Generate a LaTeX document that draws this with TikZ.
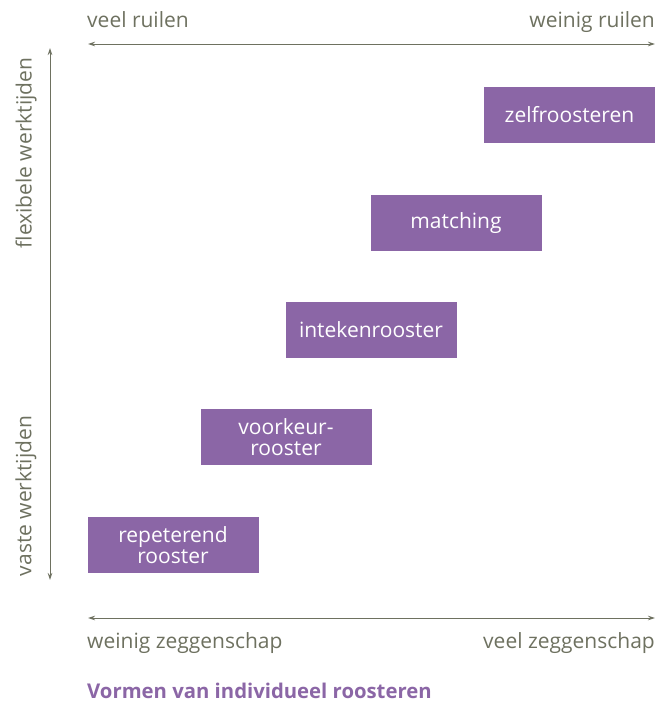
\documentclass[tikz,border=0pt]{standalone}
\usepackage{fontspec}
\setmainfont{Open Sans}
\usetikzlibrary{arrows.meta}
\definecolor{roosterpurple}{RGB}{139, 102, 166}
\definecolor{axisgrey}{RGB}{110, 113, 96}

\tikzset{
  box/.style={fill=roosterpurple, text=white, minimum width=171pt, minimum height=56pt,
    inner sep=0pt, align=center, font=\fontsize{21}{20.5}\selectfont},
  axislabel/.style={text=axisgrey, inner sep=0pt, font=\fontsize{21}{24}\selectfont},
  axis/.style={axisgrey, line width=0.9pt, {Stealth[length=7pt,width=4.5pt]}-{Stealth[length=7pt,width=4.5pt]}}
}

\begin{document}
\begin{tikzpicture}[x=1pt, y=-1pt]
    \useasboundingbox (0,0) rectangle (658,705);
    % axes
    \coordinate (ruilL) at (88,44);
    \coordinate (ruilR) at (655,44);
    \coordinate (tijdT) at (50,48);
    \coordinate (tijdB) at (50,580);
    \coordinate (zegL) at (88,618);
    \coordinate (zegR) at (655,618);
    \draw[axis] (ruilL) -- (ruilR);
    \draw[axis] (tijdT) -- (tijdB);
    \draw[axis] (zegL) -- (zegR);
    \node[axislabel, anchor=base west] (veelruilen) at (87,27) {veel ruilen};
    \node[axislabel, anchor=base east] (weinigruilen) at (655,27) {weinig ruilen};
    \node[axislabel, rotate=90] (flexibel) at (26,153) {flexibele werktijden};
    \node[axislabel, rotate=90] (vast) at (26,496) {vaste werktijden};
    \node[axislabel, anchor=base west] (weinigzeg) at (87,648) {weinig zeggenschap};
    \node[axislabel, anchor=base east] (veelzeg) at (655,648) {veel zeggenschap};
    % vormen
    \node[box] (zelf) at (569.5,115) {zelfroosteren};
    \node[box] (matching) at (456,223) {matching};
    \node[box] (inteken) at (371,330) {intekenrooster};
    \node[box] (voorkeur) at (286,437) {voorkeur-\\rooster};
    \node[box] (repeterend) at (173,545) {repeterend\\rooster};
    \node[anchor=base west, inner sep=0pt, text=roosterpurple, font=\fontsize{20.3}{24}\selectfont\bfseries] (titel) at (87,698) {Vormen van individueel roosteren};
\end{tikzpicture}
\end{document}
